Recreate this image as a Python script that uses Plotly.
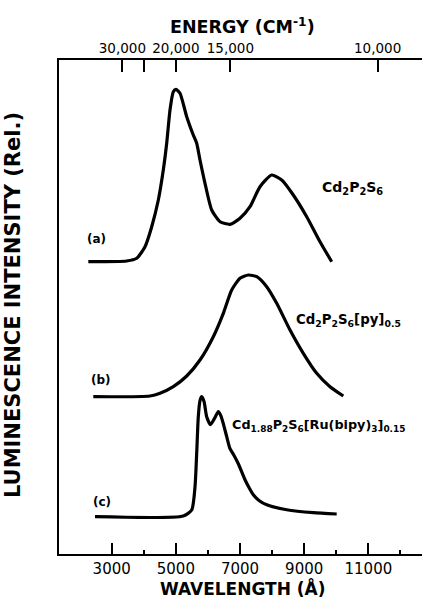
import plotly.graph_objects as go

# ---- data (wavelength in Angstrom, relative luminescence intensity) ----
a_wl = [2271, 3468, 3779, 4038, 4247, 4453, 4608, 4714, 4817, 4920, 5004, 5129, 5338, 5543,
        5649, 5752, 5908, 6117, 6376, 6687, 6999, 7311, 7622, 7987, 8299, 8660, 9078, 9493, 9857]
a_int = [0, 0.7, 3.4, 15, 35, 61.7, 91.7, 118.4, 151.7, 170, 172.4, 168.4, 145, 126.7,
         118.4, 101.7, 78.4, 51.7, 40, 37.4, 43.4, 55, 75, 86.7, 81.7, 66.7, 45, 20, 0]

b_wl = [2426, 4194, 4506, 4920, 5338, 5752, 6167, 6479, 6740, 6999, 7258, 7520, 7831, 8143,
        8558, 8972, 9390, 9804, 10219]
b_int = [0, 0.7, 3.4, 10, 20.7, 36.7, 60, 83.4, 106.7, 118.4, 121.7, 120, 110, 93.4,
         66.7, 43.4, 23.4, 10, 0.7]

c_wl = [2479, 5232, 5494, 5597, 5649, 5699, 5752, 5805, 5880, 5960, 6080, 6200, 6323, 6400,
        6479, 6585, 6687, 6800, 6946, 7155, 7300, 7414, 7600, 7831, 8455, 9284, 10013]
c_int = [0, 0.7, 6.7, 30, 63.4, 100, 116, 120, 115, 100, 92, 98, 105, 101,
         93, 80, 68, 62, 53, 37, 28, 22, 16, 12, 7, 4, 2.7]

# vertical stacking offsets for the three spectra
offset_a, offset_b, offset_c = 292.3, 157.3, 37.3

bottom_ticks = [3000, 5000, 7000, 9000, 11000]
bottom_minor = [4000, 6000, 8000, 10000, 12000]
top_tick_pos = [3333, 4000, 5000, 6700, 11290]
top_tick_text = ["30,000", "", "20,000", "15,000", "10,000"]

XR = [1357, 12672]
YR = [0, 494]

fig = go.Figure()
for wl, inten, off in [(a_wl, a_int, offset_a), (b_wl, b_int, offset_b), (c_wl, c_int, offset_c)]:
    fig.add_trace(go.Scatter(
        x=wl, y=[v + off for v in inten], mode="lines",
        line=dict(color="black", width=3.2, shape="spline", smoothing=0.6),
        showlegend=False, hoverinfo="skip"))
# invisible trace for top axis
fig.add_trace(go.Scatter(x=[XR[0]], y=[0], xaxis="x2", mode="markers",
                         marker=dict(opacity=0), showlegend=False, hoverinfo="skip"))

fig.update_layout(
    width=422, height=605,
    margin=dict(l=59, r=0, t=60, b=51),
    paper_bgcolor="white", plot_bgcolor="white",
    xaxis=dict(range=XR, showgrid=False, zeroline=False, showline=True, linecolor="black",
               linewidth=2, ticks="inside", ticklen=11, tickwidth=2, tickcolor="black",
               tickvals=bottom_ticks, ticktext=[str(t) for t in bottom_ticks],
               tickfont=dict(family="DejaVu Sans", size=15, color="black"),
               minor=dict(tickvals=bottom_minor, ticks="inside", ticklen=4, tickwidth=2,
                          tickcolor="black"),
               automargin=False),
    xaxis2=dict(range=XR, overlaying="x", side="top", showgrid=False, zeroline=False,
                showline=True, linecolor="black", linewidth=2, ticks="inside", ticklen=12,
                tickwidth=2, tickcolor="black", tickvals=top_tick_pos, ticktext=top_tick_text,
                tickfont=dict(family="DejaVu Sans", size=13.5, color="black"),
                automargin=False),
    yaxis=dict(range=YR, showgrid=False, zeroline=False, showline=True, linecolor="black",
               linewidth=2, ticks="", showticklabels=False, automargin=False),
)

def ann(text, x, y, size, xanchor="center", yanchor="middle", xref="x", yref="y", angle=0,
        family="DejaVu Sans", bold=True):
    t = f"<b>{text}</b>" if bold else text
    fig.add_annotation(text=t, x=x, y=y, xref=xref, yref=yref, showarrow=False,
                       xanchor=xanchor, yanchor=yanchor, textangle=angle,
                       font=dict(family=family, size=size, color="black"))

# axis titles
ann("ENERGY (CM<sup>-1</sup>)", 0.5055, 1.0688, 17.5, xref="paper", yref="paper")
ann("WAVELENGTH (Å)", 0.507, -0.0688, 17, xref="paper", yref="paper")
ann("LUMINESCENCE INTENSITY (Rel.)", -0.1267, 0.504, 21, xref="paper", yref="paper", angle=-90)

# curve labels
ann("(a)", 2511, 315, 12)
ann("(b)", 2666, 174, 12)
ann("(c)", 2698, 52, 12)
ann("Cd<sub>2</sub>P<sub>2</sub>S<sub>6</sub>", 9493, 366, 14, xanchor="left")
ann("Cd<sub>2</sub>P<sub>2</sub>S<sub>6</sub>[py]<sub>0.5</sub>", 8690, 234, 13.3, xanchor="left")
ann("Cd<sub>1.88</sub>P<sub>2</sub>S<sub>6</sub>[Ru(bipy)<sub>3</sub>]<sub>0.15</sub>", 6690, 129, 12.8,
    xanchor="left")

fig.write_html("out.html", config={"displayModeBar": False},
               post_script="document.body.style.margin='0';")
